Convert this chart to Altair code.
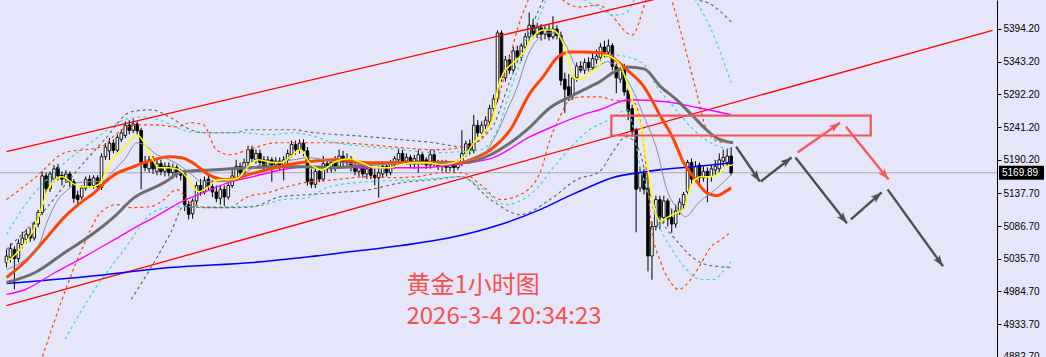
import math
import altair as alt
import pandas as pd

# ---------------- data ----------------
# candle index 0..183 (hourly bars), prices in USD
OPEN = [5030,5038,5050,5036,5058,5066,5074,5068,5090,5108,5165,5145,5160,5178,5166,5160,5168,5156,5135,5132,
        5146,5160,5150,5162,5147,5195,5204,5216,5205,5222,5228,5244,5236,5246,5236,5186,5176,5190,5172,5184,
        5172,5180,5170,5178,5170,5168,5120,5106,5126,5150,5140,5160,5148,5140,5130,5144,5132,5150,5162,5180,
        5170,5186,5206,5190,5200,5190,5180,5190,5182,5188,5182,5190,5198,5214,5206,5216,5204,5160,5152,5172,
        5160,5184,5176,5186,5180,5196,5186,5192,5180,5172,5180,5168,5176,5166,5162,5168,5180,5170,5182,5190,
        5200,5188,5194,5184,5188,5198,5190,5182,5198,5186,5180,5186,5178,5184,5178,5186,5200,5215,5205,5244,
        5232,5244,5250,5270,5285,5388,5318,5346,5330,5360,5350,5366,5382,5400,5386,5396,5386,5394,5382,5394,
        5384,5316,5304,5290,5318,5336,5330,5342,5334,5346,5350,5366,5358,5368,5336,5316,5334,5298,5270,5237,
        5146,5170,5146,5040,5086,5128,5100,5126,5100,5090,5110,5120,5140,5186,5160,5182,5162,5172,5164,5174,
        5176,5188,5186,5196]
HIGH = [5050,5060,5055,5066,5078,5082,5084,5094,5112,5172,5170,5172,5182,5184,5172,5174,5172,5160,5142,5150,
        5164,5166,5166,5166,5200,5216,5224,5222,5230,5238,5250,5252,5254,5250,5240,5196,5196,5196,5190,5190,
        5186,5186,5184,5182,5176,5172,5126,5130,5156,5160,5164,5168,5158,5150,5150,5150,5156,5178,5190,5186,
        5192,5212,5212,5206,5206,5196,5196,5194,5194,5194,5196,5206,5220,5220,5222,5222,5210,5176,5178,5180,
        5196,5190,5192,5196,5206,5204,5200,5196,5188,5186,5186,5182,5182,5176,5180,5186,5186,5190,5196,5208,
        5206,5200,5198,5198,5206,5202,5194,5206,5206,5190,5190,5190,5188,5188,5190,5236,5220,5222,5260,5252,
        5250,5258,5276,5292,5392,5392,5352,5354,5366,5368,5372,5388,5420,5410,5404,5402,5400,5402,5414,5400,
        5390,5326,5324,5322,5342,5344,5348,5350,5358,5362,5372,5376,5378,5372,5340,5334,5340,5302,5276,5240,
        5180,5176,5170,5094,5134,5134,5134,5130,5114,5120,5130,5140,5190,5192,5188,5186,5180,5178,5182,5190,
        5200,5206,5208,5210]
LOW = [5022,5030,4988,5030,5052,5060,5062,5064,5085,5104,5138,5140,5155,5158,5150,5154,5148,5123,5118,5128,
       5142,5146,5145,5144,5143,5190,5190,5200,5200,5218,5224,5230,5232,5228,5144,5172,5170,5168,5166,5166,
       5164,5164,5160,5162,5158,5110,5097,5098,5120,5134,5136,5142,5132,5124,5120,5118,5128,5146,5158,5164,
       5164,5180,5186,5184,5178,5174,5174,5156,5176,5174,5158,5184,5194,5198,5200,5196,5150,5146,5146,5155,
       5156,5170,5170,5172,5176,5180,5180,5172,5166,5164,5162,5160,5160,5150,5131,5162,5164,5166,5176,5186,
       5182,5182,5178,5176,5170,5182,5176,5176,5180,5174,5172,5170,5172,5170,5174,5180,5195,5198,5200,5226,
       5226,5238,5244,5264,5280,5312,5312,5324,5326,5344,5344,5360,5376,5380,5380,5376,5378,5376,5378,5378,
       5306,5263,5282,5284,5312,5326,5324,5328,5330,5340,5344,5350,5352,5330,5294,5310,5290,5252,5226,5077,
       5140,5136,5016,5003,5080,5082,5092,5086,5076,5084,5104,5112,5136,5152,5156,5150,5156,5124,5156,5166,
       5170,5180,5180,5166]
CLOSE = [5040,5052,5036,5060,5068,5074,5068,5090,5108,5165,5145,5168,5176,5165,5160,5168,5156,5130,5128,5146,
         5160,5150,5162,5148,5195,5210,5216,5205,5225,5232,5244,5236,5246,5235,5186,5178,5190,5176,5184,5172,
         5180,5170,5178,5170,5166,5120,5105,5126,5150,5140,5158,5148,5140,5130,5144,5132,5150,5165,5180,5170,
         5186,5206,5192,5200,5186,5180,5190,5182,5188,5180,5190,5200,5214,5206,5216,5204,5156,5152,5172,5160,
         5184,5176,5186,5178,5196,5186,5192,5180,5172,5180,5168,5176,5166,5162,5170,5180,5170,5184,5192,5200,
         5188,5194,5184,5192,5198,5188,5182,5198,5184,5180,5186,5178,5184,5178,5186,5200,5215,5205,5244,5232,
         5244,5252,5270,5285,5388,5318,5346,5330,5360,5350,5368,5382,5400,5386,5396,5386,5394,5382,5394,5384,
         5314,5300,5290,5318,5336,5330,5342,5334,5348,5352,5366,5358,5368,5336,5318,5330,5296,5266,5234,5144,
         5170,5144,5040,5086,5128,5100,5126,5098,5090,5110,5124,5136,5186,5160,5180,5162,5172,5164,5176,5180,
         5190,5194,5196,5169.89]

# indicator curves: (bar index, price)
MA_YELLOW = [(0,5029.9),(2.25,5042.4),(4.75,5061.1),(7.25,5086),(9,5117.1),(10.5,5143.5),(12.25,5159.1),(14,5163.8),
             (15.5,5159.1),(17.25,5151.3),(19,5148.2),(21.5,5148.2),(24,5156),(25.5,5179.3),(27.25,5194.9),(29.75,5210.5),
             (32.25,5226.1),(33,5229.2),(34.75,5216.7),(36.5,5194.9),(38.5,5177.8),(41,5177.8),(43.5,5174.7),(46,5159.1),
             (48.5,5140.4),(51,5148.2),(53.5,5159.1),(56,5159.1),(58.5,5162.2),(61,5179.3),(63.5,5190.3),(66,5187.1),
             (69.25,5185.6),(71.75,5194.9),(74.25,5205.8),(76.5,5185.6),(79.75,5174.7),(83,5187.1),(86.5,5191.8),
             (89.75,5185.6),(93,5177.8),(96.5,5177.8),(99.75,5182.5),(103,5185.6),(106.5,5185.6),(109.75,5182.5),
             (113,5185.6),(115.5,5194.9),(118,5216.7),(120.5,5232.3),(122.75,5252.5),(124,5299.2),(125.5,5325.7),
             (128,5341.3),(130.5,5356.8),(133,5381.7),(135.5,5392.6),(138,5392.6),(139.75,5381.7),(141.5,5356.8),
             (143,5319.5),(144.75,5314.8),(147.25,5325.7),(149.75,5338.2),(151,5353.7),(152.75,5350.6),(155.25,5335),
             (157.75,5288.3),(160.25,5241.6),(161.75,5185.6),(163.5,5117.1),(165.25,5093.7),(166.75,5100),
             (169.25,5107.7),(171,5112.4),(172.75,5148.2),(175.25,5163.8),(177.75,5163.8),(180.25,5170),
             (181.75,5179.3),(183.5,5182.5)]
MA_GRAY_THIN = [(0,5019),(4.75,5034.6),(8,5054.8),(10.5,5096.9),(13,5128),(15.5,5143.5),(18,5154.4),(21.5,5156),
                (24,5156),(26.5,5170),(29.75,5190.3),(33,5216.7),(35.5,5210.5),(37.25,5201.1),(41,5190.3),(44.25,5179.3),
                (46.75,5166.9),(49.25,5156),(52.75,5156),(56,5156),(59.25,5163.8),(62.75,5179.3),(67.75,5185.6),
                (72.75,5190.3),(76,5193.4),(83,5187.1),(91.5,5182.5),(99.75,5184),(112.25,5185.6),(119.75,5194.9),
                (123,5221.4),(126.5,5268.1),(129,5303.9),(131.5,5350.6),(134,5377.1),(136.5,5388),(139,5388),
                (141.5,5366.2),(144,5335),(147.25,5330.4),(149.75,5338.2),(151.75,5342.8),(154.25,5335),(157.75,5303.9),
                (161,5257.2),(164.25,5205.8),(166.75,5143.5),(169.25,5115.5),(171.5,5101.5),(174.75,5123.3),
                (179,5143.5),(183,5166.9)]
MA_ORANGE = [(0,5006.5),(4.75,5031.4),(9.75,5065.7),(14.75,5101.5),(19.75,5128),(22.25,5138.9),(24.75,5154.4),
             (27.25,5166.9),(31.5,5177.8),(34.75,5185.6),(37.25,5190.3),(41,5195),(44.25,5193.4),(47.75,5182.5),
             (51,5166.9),(55.25,5159.1),(57.75,5160.6),(61,5166.9),(66,5174.7),(71,5182.5),(76,5187.1),(83,5190.3),
             (91.5,5185.6),(99.75,5185.6),(108,5185.6),(114.75,5185.6),(117.25,5190.3),(122.25,5205.8),(127.25,5237),
             (132.25,5294.6),(135.5,5319.5),(139,5349.1),(142.25,5358.4),(145.5,5358.4),(149.75,5356.9),
             (151.75,5353.7),(156.75,5330.4),(161,5303.9),(165.25,5257.2),(168.5,5221.4),(171,5185.6),(173.5,5163.8),
             (176.75,5138.9),(179.25,5134.2),(181.5,5140.4),(183,5146.6)]
MA_GRAY_THICK = [(0,4998.7),(7.25,5014.3),(14.75,5045.5),(22.25,5076.6),(27.25,5101.5),(32.25,5131.1),(37.25,5146.6),
                 (40.25,5156),(44.25,5171.6),(52.75,5174.7),(61,5177.8),(69.25,5179.3),(76,5179.3),(83,5177.8),
                 (91.5,5182.5),(99.75,5185.6),(114.75,5185.6),(117.25,5187.1),(122.25,5198),(127.25,5216.7),
                 (132.25,5241.6),(137.25,5271.2),(142.25,5288.3),(147.25,5303.9),(149.75,5311.7),(153.5,5327.3),
                 (156.75,5335),(161,5331.9),(165.25,5303.9),(169.25,5283.7),(173.5,5257.2),(176.75,5237),
                 (179.25,5224.5),(183.5,5216.7)]
MA_MAGENTA = [(0,4980.1),(4.75,4987.8),(12.25,5014.3),(19.75,5039.2),(27.25,5065.7),(34.75,5092.2),(37.25,5100),
              (44.25,5124.9),(49.75,5138.9),(56.75,5156),(62.25,5163.8),(71,5176.2),(76,5179.3),(91.5,5177.8),
              (104,5177.8),(114.75,5184),(123,5193.4),(132.25,5226.1),(137.25,5240.1),(145.5,5260.3),(149.75,5268.1),
              (157.25,5283.7),(166.5,5280.6),(174.75,5271.2),(183,5260.3)]
MA_BLUE = [(0,4997.2),(20.5,5008.1),(41.5,5022.1),(62.25,5029.9),(74.75,5037.7),(87.25,5047),(99.75,5056.4),
           (112.25,5068.8),(124.75,5089.1),(134.75,5112.4),(142.25,5134.2),(148.5,5151.3),(153,5162.2),
           (159.75,5170),(165.25,5174.7),(173.5,5179.3),(183.5,5185.6)]

# Bollinger-type envelopes (dashed)
BAND_ORANGE_UP = [(0,5128),(7.25,5162.2),(14.75,5201.1),(24,5210.5),(28,5232.3),(33,5244.7),(37.25,5244.7),(43,5241.6),
                  (46.5,5247.9),(49.75,5244.7),(53,5205.8),(56.5,5198),(61,5205.8),(68.5,5216.7),(74.75,5216.7),
                  (83,5216.7),(91.5,5213.6),(99.75,5209),(108,5205.8),(114.75,5209),(119.75,5221.4),(124,5283.7),
                  (127.25,5353.7),(129.75,5408.2),(131.75,5439.4),(134.75,5501.6),(138.5,5454.9),(141.5,5434.7),
                  (144.75,5428.5),(149.75,5431.6),(152.25,5419.1),(158,5384.9),(161.5,5439.4),(164.75,5501.6),
                  (168,5439.4),(174.75,5283.7),(176.5,5241.6),(179.75,5218.3),(182.25,5216.7)]
BAND_ORANGE_LO = [(7.25,4847.7),(12.25,4941.1),(19,5050.1),(24,5109.3),(28,5120.2),(31.5,5115.5),(36.5,5117.1),
                  (39.75,5128),(43,5143.5),(46.5,5123.3),(51,5115.5),(56,5115.5),(61,5132.6),(66,5138.9),(71,5148.2),
                  (75.25,5154.4),(83,5159.1),(91.5,5163.8),(98,5162.2),(104,5163.8),(109.75,5170),(114.75,5170),
                  (119.75,5151.3),(124.75,5128),(129.75,5135.8),(134.75,5170),(137.25,5221.4),(139.75,5257.2),
                  (142.25,5283.7),(145.5,5288.3),(149.75,5288.3),(153,5283.7),(158.5,5279),(161,5210.5),(163,5081.3),
                  (165.25,5029.9),(167.75,4998.7),(169.75,4987.8),(172.75,5003.4),(175.25,5026.8),(177.75,5053.3),
                  (180.5,5065.7),(182.75,5076.6)]
BAND_CYAN_UP = [(0,5073.5),(4.75,5120.2),(12.25,5171.6),(22.25,5221.4),(29.75,5252.5),(34.75,5257.2),(39.75,5249.4),
                (46.5,5233.8),(52.75,5232.3),(59.25,5232.3),(66,5229.2),(72.75,5232.3),(76,5229.2),(83,5216.7),
                (91.5,5210.5),(99.75,5205.8),(108,5201.1),(114.75,5202.7),(119.75,5205.8),(124,5237),(127.25,5299.2),
                (131,5361.5),(134.75,5416),(137.25,5454.9),(139.75,5470.5),(146,5439.4),(149.75,5426.9),(153,5416),
                (156.5,5419.1),(158.5,5439.4),(164.75,5517),(174,5439.4),(178,5392.6),(183,5310.1)]
BAND_CYAN_LO = [(14.75,4910),(22.25,4987.8),(29.75,5050.1),(37.25,5109.3),(42.25,5117.1),(62.25,5117.1),(69.75,5128),
                (76,5131.1),(81.5,5148.2),(91.5,5156),(104,5159.1),(114.75,5163.8),(119.75,5146.6),(126,5120.2),
                (132.25,5135.8),(139.75,5190.3),(147.25,5237),(152.25,5252.5),(156.75,5268.1),(160.25,5174.7),
                (162.75,5123.3),(165.25,5081.3),(168.5,5045.5),(171.75,5019),(175.25,5003.4),(178.5,5003.4),
                (181.75,5022.1),(183,5031.4)]
BAND_CYAN_MID = [(149.75,5346),(153.5,5353.7),(156.75,5350.6),(161,5338.2),(164.25,5303.9),(168.5,5272.8),
                 (172.75,5241.6),(177.75,5216.7),(183,5205.8)]
BAND_GRAY_UP = [(0,5050.1),(9.75,5112.4),(16.5,5163.8),(24.75,5221.4),(31.5,5265),(36.5,5268.1),(41.5,5255.6),
                (46.5,5237),(49.75,5232.3),(58,5232.3),(61,5237),(72.75,5237),(76,5233.8),(91.5,5226.1),(99.75,5221.4),
                (108,5216.7),(114.75,5210.5),(122.25,5237),(127.25,5314.8),(132.25,5392.6),(135.5,5439.4),
                (138.5,5486.1),(154.75,5470.5),(164.75,5501.6),(174.75,5439.4),(177.25,5434.7),(183,5405.1)]
BAND_GRAY_LO = [(31.5,4972.3),(37.25,5029.9),(41.5,5076.6),(44.75,5117.1),(49.75,5115.5),(58,5115.5),(62.25,5117.1),
                (69.25,5132.6),(76,5135.8),(83,5138.9),(91.5,5143.5),(99.75,5154.4),(108,5159.1),(114.75,5163.8),
                (122.25,5128),(129.75,5104.6),(137.25,5128),(144,5159.1),(149.75,5171.6),(153.5,5205.8),
                (156.5,5226.1),(159.75,5205.8),(162.25,5143.5),(166,5089.1),(169,5065.7),(173,5039.2),
                (176.5,5026.8),(179.75,5023.7),(183,5022.1)]

# trend channel lines (bar index, price) endpoints
CHANNEL_UPPER = [(0, 5203.0), (180, 5464.0)]
CHANNEL_LOWER = [(0, 4962.6), (249, 5392.0)]

# resistance box: bar index from/to, price low/high
ZONE = (152.75, 218.25, 5228.0, 5259.0)

# projected path arrows: (index0, price0, index1, price1)
ARROWS_GRAY = [(184.25, 5210.7, 190.25, 5156.3), (190.5, 5156.3, 198.25, 5193.6),
               (199.25, 5193.6, 212.25, 5091.0), (213.25, 5097.2, 221.0, 5139.2),
               (222.5, 5143.9, 236.5, 5024.1)]
ARROWS_RED = [(199.75, 5201.4, 210.5, 5248.0), (212.0, 5241.8, 222.75, 5159.4)]

PRICE_TICKS = [5394.20, 5343.20, 5292.20, 5241.20, 5190.20, 5137.70, 5086.70, 5035.70, 4984.70, 4933.70, 4882.70]
LAST_PRICE = 5169.89
TITLE_1 = "黄金1小时图"
TITLE_2 = "2026-3-4 20:34:23"

# ---------------- chart ----------------
W, H = 997, 357
X_DOM = [-0.375, 248.875]
Y_DOM = [4882.5, 5439.35]
BG = "#e6e6fa"

xs = alt.Scale(domain=X_DOM, nice=False, zero=False)
ys = alt.Scale(domain=Y_DOM, nice=False, zero=False)
yaxis = alt.Axis(orient="right", values=PRICE_TICKS, format=".2f", title=None, grid=False,
                 labelFont="Liberation Sans", labelFontSize=10, labelColor="black",
                 tickColor="black", tickSize=4, domainColor="black", labelPadding=2,
                 labelOverlap=False, labelBound=False, labelFlush=False)


def X(f="i"):
    return alt.X(f"{f}:Q", scale=xs, axis=None)


def Y(f="p"):
    return alt.Y(f"{f}:Q", scale=ys, axis=yaxis)


layers = []

# last price line
layers.append(alt.Chart(pd.DataFrame({"p": [LAST_PRICE]})).mark_rule(color="#a8a8b8", strokeWidth=1)
              .encode(y=Y()))

# candles
cdf = pd.DataFrame({"i": list(range(len(CLOSE))), "o": OPEN, "h": HIGH, "l": LOW, "c": CLOSE})
cdf["fill"] = ["white" if c >= o else "black" for o, c in zip(OPEN, CLOSE)]
layers.append(alt.Chart(cdf).mark_rule(color="black", strokeWidth=1)
              .encode(x=X(), y=Y("l"), y2=alt.Y2("h:Q")))
layers.append(alt.Chart(cdf).mark_bar(size=2.6, stroke="black", strokeWidth=0.9)
              .encode(x=X(), y=Y("o"), y2=alt.Y2("c:Q"), fill=alt.Fill("fill:N", scale=None)))


def line_layer(pts, color, width, dash=None, interp="monotone"):
    df = pd.DataFrame(pts, columns=["i", "p"])
    kw = dict(color=color, strokeWidth=width, clip=True, interpolate=interp)
    if dash:
        kw["strokeDash"] = dash
    return alt.Chart(df).mark_line(**kw).encode(x=X(), y=Y())


# envelopes
ORANGE = "#ff4500"
CYAN = "#40d8d0"
DGRAY = "#6a6a6a"
for pts, col in [(BAND_ORANGE_UP, ORANGE), (BAND_ORANGE_LO, ORANGE), (BAND_CYAN_UP, CYAN),
                 (BAND_CYAN_LO, CYAN), (BAND_CYAN_MID, CYAN), (BAND_GRAY_UP, DGRAY), (BAND_GRAY_LO, DGRAY)]:
    layers.append(line_layer(pts, col, 1.2, dash=[3, 3]))

# channel lines
for pts in (CHANNEL_UPPER, CHANNEL_LOWER):
    layers.append(line_layer(pts, "#ff0000", 1.3, interp="linear"))

# moving averages
layers.append(line_layer(MA_BLUE, "#0000ff", 1.6))
layers.append(line_layer(MA_MAGENTA, "#ff00ff", 1.4))
layers.append(line_layer(MA_GRAY_THICK, "#6e6e6e", 3))
layers.append(line_layer(MA_ORANGE, ORANGE, 3))
layers.append(line_layer(MA_GRAY_THIN, "#8a8a9a", 1))
layers.append(line_layer(MA_YELLOW, "#ffff00", 1.5))

# resistance zone
zdf = pd.DataFrame({"i0": [ZONE[0]], "i1": [ZONE[1]], "p0": [ZONE[2]], "p1": [ZONE[3]]})
layers.append(alt.Chart(zdf).mark_rect(fill=None, stroke="#f25555", strokeWidth=2.2)
              .encode(x=X("i0"), x2=alt.X2("i1:Q"), y=Y("p0"), y2=alt.Y2("p1:Q")))

# arrows
kx = W / (X_DOM[1] - X_DOM[0])
ky = H / (Y_DOM[1] - Y_DOM[0])
HEAD = "M0,0L0.45,1.3L0,1.0L-0.45,1.3Z"


def arrow_layers(arrs, color):
    rows = []
    for i0, p0, i1, p1 in arrs:
        dx = (i1 - i0) * kx
        dys = -(p1 - p0) * ky
        ang = math.degrees(math.atan2(dx, -dys)) % 360
        rows.append({"i0": i0, "p0": p0, "i": i1, "p": p1, "ang": ang})
    df = pd.DataFrame(rows)
    shaft = alt.Chart(df).mark_rule(color=color, strokeWidth=2.4).encode(
        x=X("i0"), y=Y("p0"), x2=alt.X2("i:Q"), y2=alt.Y2("p:Q"))
    head = alt.Chart(df).mark_point(shape=HEAD, filled=True, size=300, color=color, opacity=1,
                                    strokeWidth=0.5).encode(
        x=X(), y=Y(), angle=alt.Angle("ang:Q", scale=None))
    return [shaft, head]


layers += arrow_layers(ARROWS_GRAY, "#505050")
layers += arrow_layers(ARROWS_RED, "#f55a5a")

# titles
tdf = pd.DataFrame({"i": [101.0, 101.0], "p": [4983.0, 4933.5], "t": [TITLE_1, TITLE_2]})
layers.append(alt.Chart(tdf).mark_text(align="left", baseline="alphabetic", font="Noto Sans CJK SC",
                                       fontSize=24, color="#f5504e")
              .encode(x=X(), y=Y(), text="t:N"))

# last price tag on axis
ldf = pd.DataFrame({"p": [LAST_PRICE], "t": [f"{LAST_PRICE:.2f}"]})
layers.append(alt.Chart(ldf).transform_calculate(top="datum.p + 11", bot="datum.p - 11")
              .mark_rect(color="black").encode(x=alt.value(999), x2=alt.value(1044), y=Y("top"),
                                                y2=alt.Y2("bot:Q")))
layers.append(alt.Chart(ldf).mark_text(align="left", baseline="middle", color="white",
                                       font="Liberation Sans", fontSize=10)
              .encode(x=alt.value(1002), y=Y(), text="t:N"))

chart = alt.layer(*layers).properties(
    width=W, height=H, background=BG,
    padding={"left": 0, "top": 0, "right": 49, "bottom": 0},
    autosize=alt.AutoSizeParams(type="none"),
).configure_view(stroke=None)

chart.save("out.html", embed_options={"renderer": "svg", "actions": False})
